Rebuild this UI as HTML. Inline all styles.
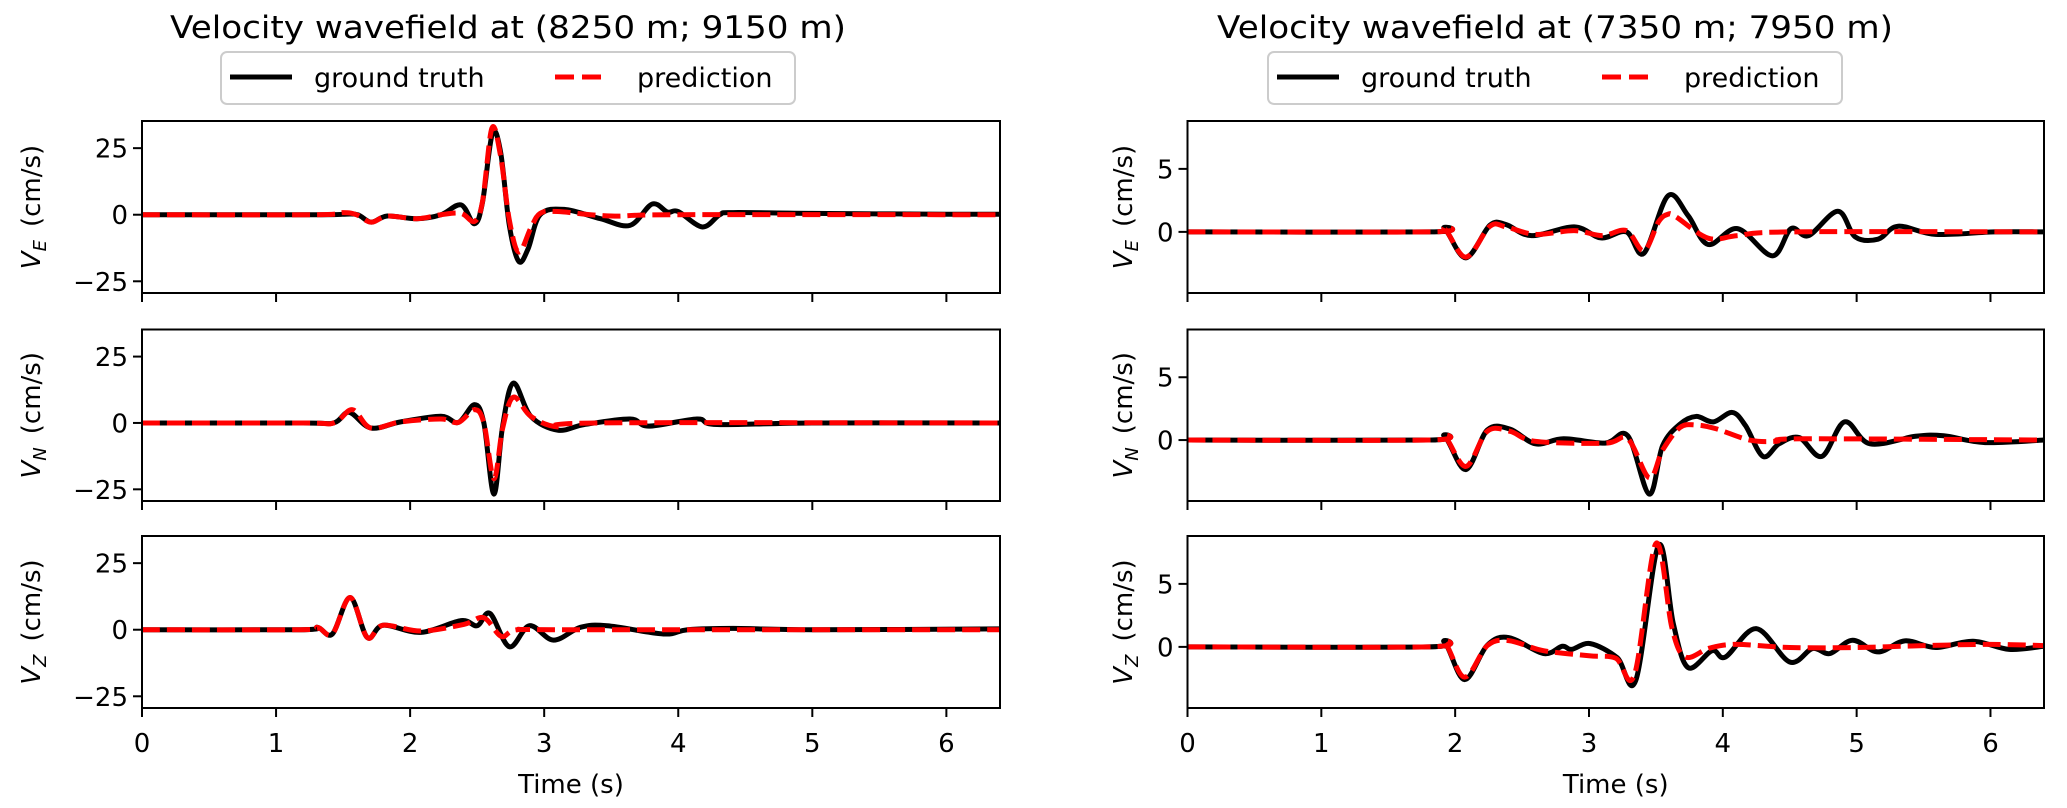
<!DOCTYPE html>
<html><head><meta charset="utf-8"><style>
html,body{margin:0;padding:0;background:#fff;}
svg{display:block;font-family:"DejaVu Sans","Liberation Sans",sans-serif;}
</style></head><body>
<svg id="fig" width="2067" height="808" viewBox="0 0 2067 808" xmlns="http://www.w3.org/2000/svg">
<rect x="0" y="0" width="2067" height="808" fill="#fff"/>
<text x="508" y="38" font-size="31" text-anchor="middle" textLength="676" lengthAdjust="spacingAndGlyphs">Velocity wavefield at (8250 m; 9150 m)</text>
<text x="1555" y="38" font-size="31" text-anchor="middle" textLength="676" lengthAdjust="spacingAndGlyphs">Velocity wavefield at (7350 m; 7950 m)</text>
<g>
<rect x="221" y="52" width="574" height="52" rx="6" fill="#fff" stroke="#cccccc" stroke-width="2"/>
<line x1="230" y1="77" x2="292" y2="77" stroke="#000" stroke-width="5"/>
<text x="314" y="87" font-size="27">ground truth</text>
<line x1="555" y1="77" x2="607" y2="77" stroke="#ff0000" stroke-width="5" stroke-dasharray="19 8"/>
<text x="637" y="87" font-size="27">prediction</text>
</g>
<g>
<rect x="1268" y="52" width="574" height="52" rx="6" fill="#fff" stroke="#cccccc" stroke-width="2"/>
<line x1="1277" y1="77" x2="1339" y2="77" stroke="#000" stroke-width="5"/>
<text x="1361" y="87" font-size="27">ground truth</text>
<line x1="1602" y1="77" x2="1654" y2="77" stroke="#ff0000" stroke-width="5" stroke-dasharray="19 8"/>
<text x="1684" y="87" font-size="27">prediction</text>
</g>
<g id="plots"></g>
</svg>
<script>
// ---- data (time s, velocity cm/s) ----
const xTicks = [0,1,2,3,4,5,6];
const leftYTicks = [-25,0,25];
const rightYTicks = [0,5];
const leftYLim = [-29.4,35.2];
const rightYLim = [-4.85,8.8];

const LE_gt_t = [0,1.3,1.51,1.61,1.71,1.83,2.05,2.23,2.38,2.48,2.54,2.613,2.675,2.74,2.81,2.88,2.97,3.15,3.42,3.64,3.805,3.92,4.0,4.18,4.31,4.41,5.0,6.0,6.4];
const LE_gt_v = [0,0,0.2,0,-2.8,-0.5,-1.5,0,3.7,-3.4,4.7,30.4,23.5,-4,-17.5,-12.8,0,2,-1.5,-4,4,1,1.2,-4.6,0,0.8,0.5,0.2,0.2];
const LE_pr_t = [0,1.3,1.5,1.6,1.71,1.83,2.05,2.23,2.38,2.48,2.54,2.61,2.675,2.74,2.81,2.9,2.97,3.1,3.5,4.0,6.4];
const LE_pr_v = [0,0,0.8,0,-2.8,-0.5,-1.5,0,0.5,-2.5,5,32.5,22,-2,-14,-5,0.5,1.2,-0.5,0,0];

const LN_gt_t = [0,1.2,1.43,1.545,1.707,1.93,2.23,2.36,2.48,2.55,2.625,2.69,2.77,2.9,3.1,3.3,3.64,3.78,4.14,4.29,5,6.4];
const LN_gt_v = [0,0,0,4,-1.9,0.4,2.5,0.2,6.9,0,-26.8,-1.2,15,2.5,-2.7,-0.6,1.5,-1.2,1.5,-0.6,0,0];
const LN_pr_t = [0,1.2,1.43,1.57,1.707,1.93,2.23,2.36,2.48,2.55,2.625,2.69,2.77,2.9,3.1,3.4,6.4];
const LN_pr_v = [0,0,0,5,-1.9,0.4,1.5,0.2,5,0,-21,-2,9.7,2.5,-1.5,0,0];

const LZ_gt_t = [0,1.185,1.31,1.42,1.553,1.68,1.8,2.08,2.38,2.5,2.596,2.74,2.89,3.07,3.27,3.47,3.89,4.07,4.41,5,6.4];
const LZ_gt_v = [0,0,0.9,-1.6,12.1,-2.9,1.7,-1,3.4,1.5,6.1,-6.4,1.5,-3.9,0.9,1.5,-1.6,0,0.5,0,0.3];
const LZ_pr_t = [0,1.185,1.31,1.42,1.553,1.68,1.8,2.08,2.4,2.55,2.68,2.8,3.2,6.4];
const LZ_pr_v = [0,0,0.9,-1.6,12.1,-2.9,1.7,-0.5,2,4.5,-2.5,0,0,0];

const RE_gt_t = [0,1.82,1.92,2.08,2.26,2.38,2.57,2.89,3.09,3.28,3.41,3.59,3.74,3.89,4.11,4.37,4.51,4.64,4.86,4.99,5.16,5.31,5.59,6.03,6.4];
const RE_gt_v = [0,0,0.26,-2.06,0.53,0.58,-0.3,0.4,-0.48,0,-1.7,2.86,1.3,-1.0,0.26,-1.9,0.26,-0.3,1.64,-0.4,-0.58,0.45,-0.2,0,0];
const RE_pr_t = [0,1.82,1.92,2.08,2.26,2.38,2.6,2.89,3.1,3.28,3.41,3.52,3.59,3.65,3.89,4.11,4.5,6.4];
const RE_pr_v = [0,0,0.26,-2.0,0.45,0.4,-0.2,0.1,-0.3,0.1,-1.5,0.8,1.4,1.2,-0.5,-0.3,0,0];

const RN_gt_t = [0,1.8,1.92,2.08,2.24,2.41,2.6,2.81,3.12,3.29,3.45,3.55,3.68,3.8,3.93,4.07,4.17,4.3,4.42,4.57,4.74,4.91,5.1,5.44,5.65,5.96,6.4];
const RN_gt_v = [0,0,0.3,-2.35,0.8,0.87,-0.3,0.1,-0.24,0.34,-4.3,-0.45,1.27,1.88,1.45,2.2,1.14,-1.3,-0.3,0.2,-1.3,1.45,-0.3,0.3,0.34,-0.2,0];
const RN_pr_t = [0,1.8,1.92,2.08,2.24,2.41,2.6,3.12,3.29,3.45,3.55,3.68,3.8,3.95,4.2,4.4,4.6,6.4];
const RN_pr_v = [0,0,0.3,-2.1,0.7,0.7,-0.1,-0.25,0.1,-3.0,-0.8,1.0,1.2,0.9,0,-0.1,0.1,0];

const RZ_gt_t = [0,1.8,1.92,2.07,2.24,2.4,2.66,2.8,2.87,3.01,3.21,3.35,3.52,3.63,3.74,3.92,4.02,4.25,4.5,4.67,4.8,4.97,5.16,5.36,5.59,5.87,6.14,6.4];
const RZ_gt_v = [0,0,0.37,-2.6,0.13,0.74,-0.53,0.05,-0.2,0.26,-0.85,-2.65,8.07,1.85,-1.64,-0.3,-0.8,1.45,-1.2,-0.13,-0.53,0.53,-0.4,0.48,-0.05,0.45,-0.2,0.05];
const RZ_pr_t = [0,1.8,1.92,2.07,2.24,2.4,2.66,3.0,3.2,3.34,3.5,3.62,3.72,3.9,4.1,4.5,5,5.5,6,6.4];
const RZ_pr_v = [0,0,0.37,-2.4,0.1,0.5,-0.3,-0.7,-0.9,-2.2,8.2,1.5,-0.8,-0.1,0.2,-0.05,-0.05,0.1,0.2,0.1];

// ---- layout ----
const NS='http://www.w3.org/2000/svg';
const plots=document.getElementById('plots');
const cols=[{x0:142,x1:1000,lim:leftYLim,ticks:leftYTicks,ylabX:31},{x0:1187.5,x1:2044,lim:rightYLim,ticks:rightYTicks,ylabX:1123}];
const rows=[{y0:121,y1:293,sub:'E'},{y0:329.5,y1:501,sub:'N'},{y0:536,y1:708,sub:'Z'}];
const traces=[
 [[LE_gt_t,LE_gt_v,LE_pr_t,LE_pr_v],[LN_gt_t,LN_gt_v,LN_pr_t,LN_pr_v],[LZ_gt_t,LZ_gt_v,LZ_pr_t,LZ_pr_v]],
 [[RE_gt_t,RE_gt_v,RE_pr_t,RE_pr_v],[RN_gt_t,RN_gt_v,RN_pr_t,RN_pr_v],[RZ_gt_t,RZ_gt_v,RZ_pr_t,RZ_pr_v]]
];
function mk(tag,attrs,parent){const e=document.createElementNS(NS,tag);for(const k in attrs)e.setAttribute(k,attrs[k]);(parent||plots).appendChild(e);return e;}
function smoothPath(pts){
  let d='M'+pts[0][0].toFixed(2)+','+pts[0][1].toFixed(2);
  for(let i=0;i<pts.length-1;i++){
    const p0=pts[Math.max(0,i-1)],p1=pts[i],p2=pts[i+1],p3=pts[Math.min(pts.length-1,i+2)];
    const c1x=p1[0]+(p2[0]-p0[0])/6,c1y=p1[1]+(p2[1]-p0[1])/6;
    const c2x=p2[0]-(p3[0]-p1[0])/6,c2y=p2[1]-(p3[1]-p1[1])/6;
    d+='C'+c1x.toFixed(2)+','+c1y.toFixed(2)+' '+c2x.toFixed(2)+','+c2y.toFixed(2)+' '+p2[0].toFixed(2)+','+p2[1].toFixed(2);
  }
  return d;
}
cols.forEach((c,ci)=>{
  rows.forEach((r,ri)=>{
    const sx=t=>c.x0+(t-0)/(6.4-0)*(c.x1-c.x0);
    const sy=v=>r.y1-(v-c.lim[0])/(c.lim[1]-c.lim[0])*(r.y1-r.y0);
    const g=mk('g',{});
    
    
    const cp='clip'+ci+ri;
    const cl=mk('clipPath',{id:cp},g);
    mk('rect',{x:c.x0,y:r.y0,width:c.x1-c.x0,height:r.y1-r.y0},cl);
    const tr=traces[ci][ri];
    const gt=mk('path',{d:smoothPath(tr[0].map((t,i)=>[sx(t),sy(tr[1][i])])),fill:'none',stroke:'#000','stroke-width':5,'stroke-linejoin':'round','clip-path':'url(#'+cp+')'},g);
    
    
    const pr=mk('path',{d:smoothPath(tr[2].map((t,i)=>[sx(t),sy(tr[3][i])])),fill:'none',stroke:'#ff0000','stroke-width':5,'stroke-dasharray':'18 7','clip-path':'url(#'+cp+')'},g);
    
    
    const fr=mk('rect',{x:c.x0,y:r.y0,width:c.x1-c.x0,height:r.y1-r.y0,fill:'none',stroke:'#000','stroke-width':2},g);
    
    
    xTicks.forEach(t=>{
      const x=sx(t);
      const tk=mk('line',{x1:x,y1:r.y1,x2:x,y2:r.y1+9,stroke:'#000','stroke-width':2},g);
      
      
      if(ri===2){
        const tl=mk('text',{x:x,y:752,'font-size':26,'text-anchor':'middle'},g);
        
        
        tl.textContent=String(t);
      }
    });
    c.ticks.forEach(v=>{
      const y=sy(v);
      const tk=mk('line',{x1:c.x0-9,y1:y,x2:c.x0,y2:y,stroke:'#000','stroke-width':2},g);
      
      
      const tl=mk('text',{x:c.x0-14,y:y+9.5,'font-size':26,'text-anchor':'end'},g);
      
      
      tl.textContent=v<0?'\u2212'+Math.abs(v):String(v);
    });
    const yc=(r.y0+r.y1)/2;
    const yl=mk('text',{x:c.ylabX+9,y:yc,'font-size':26,'text-anchor':'middle',transform:'rotate(-90 '+(c.ylabX+9)+' '+yc+')'},g);
    
    
    const i1=document.createElementNS(NS,'tspan');i1.setAttribute('font-style','italic');i1.textContent='V';yl.appendChild(i1);
    const i2=document.createElementNS(NS,'tspan');i2.setAttribute('font-style','italic');i2.setAttribute('font-size','18');i2.setAttribute('dy','6');i2.textContent=r.sub;yl.appendChild(i2);
    const i3=document.createElementNS(NS,'tspan');i3.setAttribute('dy','-6');i3.textContent='\u2002(cm/s)';yl.appendChild(i3);
    if(ri===2){
      const xl=mk('text',{x:(c.x0+c.x1)/2,y:793,'font-size':26,'text-anchor':'middle'},g);
      
      
      xl.textContent='Time (s)';
    }
  });
});
</script>
</body></html>
